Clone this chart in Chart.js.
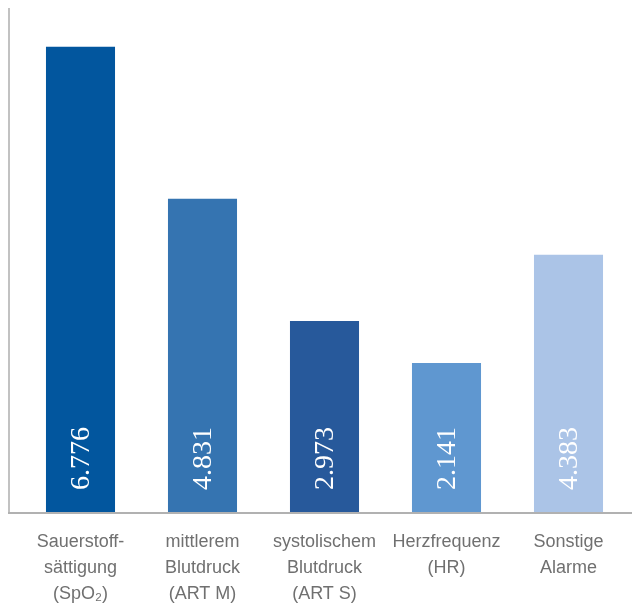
<!DOCTYPE html>
<html>
<head>
<meta charset="utf-8">
<script src="https://cdn.jsdelivr.net/npm/chart.js@4"></script>
<style>
  html, body { margin: 0; padding: 0; background: #fff; }
  #wrap { width: 632px; height: 607px; }
</style>
</head>
<body>
<div id="wrap"><canvas id="barChart" width="632" height="607"></canvas></div>
<script>
// categories (multi-line tick labels)
var categories = [
    ['Sauerstoff-', 's\u00e4ttigung', '(SpO\u2082)'],
    ['mittlerem', 'Blutdruck', '(ART M)'],
    ['systolischem', 'Blutdruck', '(ART S)'],
    ['Herzfrequenz', '(HR)'],
    ['Sonstige', 'Alarme']
];
// bar heights as they appear in the picture (scaled to the first bar)
var barValues = [6776, 4561, 2783, 2171, 3745];
// numbers printed inside the bars
var printedValues = ['6.776', '4.831', '2.973', '2.141', '4.383'];
var barColors = ['#02569e', '#3574b1', '#27599b', '#5f97d0', '#abc4e7'];

// axis lines + rotated labels inside the bars
var decoPlugin = {
    id: 'deco',
    afterDatasetsDraw: function (chart) {
        var ctx = chart.ctx;
        var area = chart.chartArea;
        var meta = chart.getDatasetMeta(0);
        ctx.save();
        ctx.fillStyle = '#ffffff';
        ctx.font = '28px "Liberation Serif"';
        ctx.textAlign = 'left';
        ctx.textBaseline = 'middle';
        for (var i = 0; i < meta.data.length; i++) {
            var bar = meta.data[i];
            ctx.save();
            ctx.translate(bar.x + 1, area.bottom - 22);
            ctx.rotate(-Math.PI / 2);
            ctx.fillText(printedValues[i], 0, 0);
            ctx.restore();
        }
        ctx.strokeStyle = '#c2c2c2';
        ctx.lineWidth = 2;
        ctx.beginPath();
        ctx.moveTo(9, 8);
        ctx.lineTo(9, area.bottom);
        ctx.stroke();
        ctx.strokeStyle = 'rgba(100,100,100,0.5)';
        ctx.beginPath();
        ctx.moveTo(8, area.bottom + 1);
        ctx.lineTo(632, area.bottom + 1);
        ctx.stroke();
        ctx.restore();
    }
};

var chart = new Chart(document.querySelector('#barChart'), {
    type: 'bar',
    data: {
        labels: categories,
        datasets: [{
            data: barValues,
            backgroundColor: barColors,
            borderWidth: 0,
            barPercentage: 0.566,
            categoryPercentage: 1
        }]
    },
    options: {
        responsive: false,
        animation: false,
        layout: { padding: { left: 19.5, right: 2.5, top: 8, bottom: 0 } },
        plugins: {
            legend: { display: false },
            tooltip: { enabled: false }
        },
        scales: {
            x: {
                grid: { display: false, drawTicks: false },
                border: { display: false },
                afterFit: function (scale) { scale.height = 95; },
                ticks: {
                    color: '#707070',
                    padding: 17,
                    maxRotation: 0,
                    autoSkip: false,
                    font: { family: '"Liberation Sans"', size: 18, lineHeight: 1.44 }
                }
            },
            y: {
                display: false,
                min: 0,
                max: 7340
            }
        }
    },
    plugins: [decoPlugin]
});
</script>
</body>
</html>
